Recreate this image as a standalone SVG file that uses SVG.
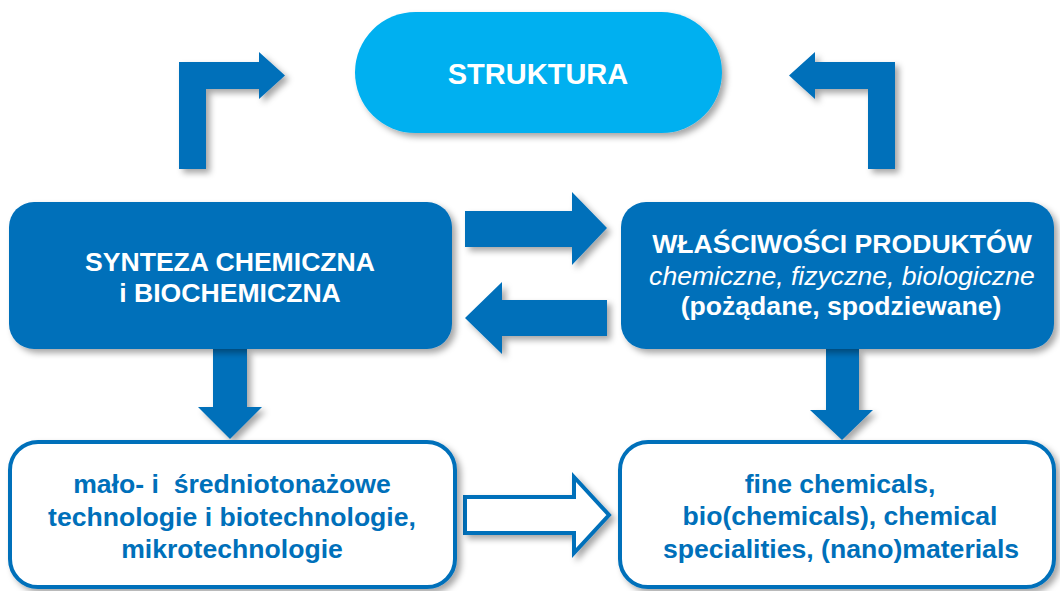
<svg xmlns="http://www.w3.org/2000/svg" width="1060" height="591" viewBox="0 0 1060 591">
<defs>
<filter id="sh" x="-10%" y="-10%" width="130%" height="130%">
<feDropShadow dx="4" dy="4" stdDeviation="3" flood-color="#000" flood-opacity="0.35"/>
</filter>
<style>
.dark{fill:#0070BA;filter:url(#sh)}
.light{fill:#00B0F0;filter:url(#sh)}
.out{fill:#fff;stroke:#0070BA;stroke-width:4;filter:url(#sh)}
.arr{fill:#0070BA;filter:url(#sh)}
.harr{fill:#fff;stroke:#0070BA;stroke-width:4;stroke-linejoin:miter;filter:url(#sh)}
text{font-family:"Liberation Sans",Arial,sans-serif;text-anchor:middle;font-size:26.6px}
.w{fill:#fff;font-weight:bold}
.wi{fill:#fff;font-style:italic}
.b{fill:#0070BA;font-weight:bold}
</style>
</defs>
<rect width="1060" height="591" fill="#fff"/>
<g id="connectors">
<polygon class="arr" points="179,169 179,62 259,62 259,52 285,75.5 259,99 259,89 206,89 206,169"/>
<polygon class="arr" points="895,169 895,62 815,62 815,52 789,75.5 815,99 815,89 868,89 868,169"/>
<polygon class="arr" points="465,211 572,211 572,192 607,228 572,265 572,247 465,247"/>
<polygon class="arr" points="607,300 502,300 502,282 465,318 502,354 502,336 607,336"/>
<polygon class="arr" points="213,349 247,349 247,407 262,407 230,439 198,407 213,407"/>
<polygon class="arr" points="826,349 859,349 859,410 873,410 842,440 810,410 826,410"/>
<polygon class="harr" points="465,497 574,497 574,477 609,515 574,553 574,533 465,533"/>
</g>
<g id="struktura">
<rect class="light" x="355" y="12" width="367" height="121" rx="60.5"/>
<text class="w" x="538" y="84" style="font-size:29px">STRUKTURA</text>
</g>
<g id="synteza">
<rect class="dark" x="9" y="202" width="443" height="147" rx="25"/>
<text class="w" x="230" y="271">SYNTEZA CHEMICZNA</text>
<text class="w" x="230" y="302">i BIOCHEMICZNA</text>
</g>
<g id="wlasciwosci">
<rect class="dark" x="621" y="202" width="433" height="147" rx="25"/>
<text class="w" x="842" y="253">WŁAŚCIWOŚCI PRODUKTÓW</text>
<text class="wi" x="842" y="285">chemiczne, fizyczne, biologiczne</text>
<text class="w" x="841" y="315">(pożądane, spodziewane)</text>
</g>
<g id="technologie">
<rect class="out" x="10" y="442" width="445" height="145" rx="28"/>
<text class="b" x="232" y="493" style="white-space:pre">mało- i  średniotonażowe</text>
<text class="b" x="232" y="526">technologie i biotechnologie,</text>
<text class="b" x="232" y="558">mikrotechnologie</text>
</g>
<g id="produkty">
<rect class="out" x="620" y="442" width="434" height="145" rx="28"/>
<text class="b" x="840" y="493">fine chemicals,</text>
<text class="b" x="840" y="525">bio(chemicals), chemical</text>
<text class="b" x="841" y="558">specialities, (nano)materials</text>
</g>
</svg>
